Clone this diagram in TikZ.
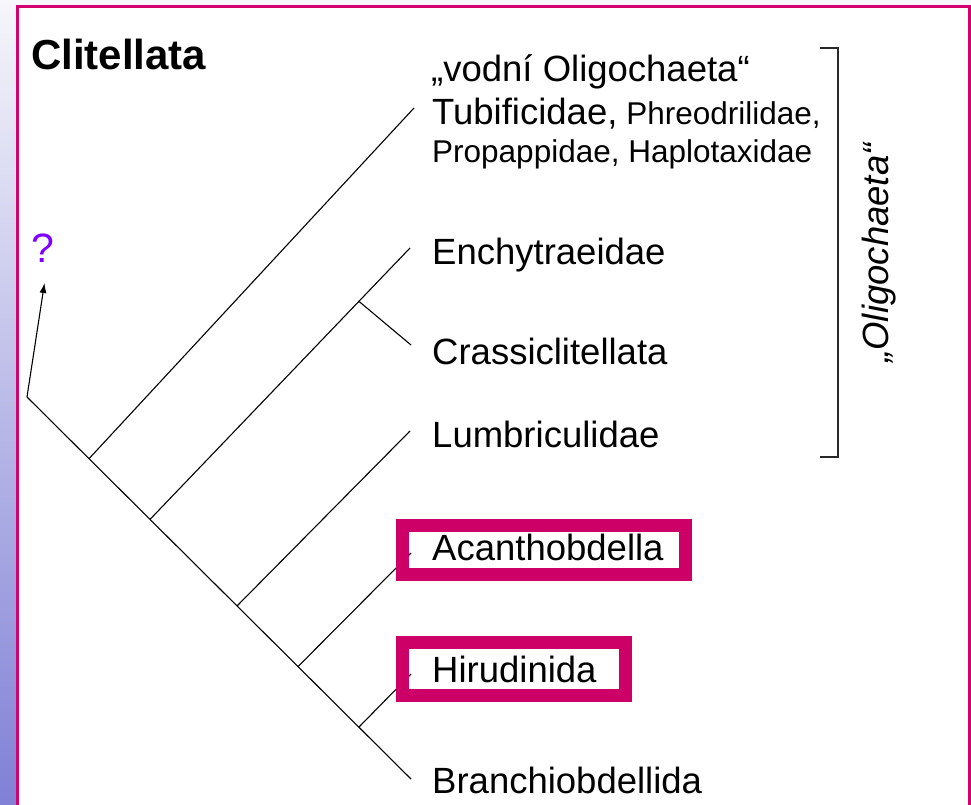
\documentclass[tikz,border=0pt]{standalone}
\usepackage{fontspec}
\setmainfont{Liberation Sans}
\usetikzlibrary{arrows.meta}
\definecolor{framemag}{RGB}{212,0,112}
\definecolor{boxmag}{RGB}{204,0,102}
\definecolor{qviolet}{RGB}{128,0,255}
\definecolor{bgtop}{RGB}{246,246,251}
\definecolor{bgmid}{RGB}{206,206,238}
\definecolor{bgbot}{RGB}{128,128,214}
\definecolor{brk}{RGB}{40,40,40}
\begin{document}
\begin{tikzpicture}[x=1pt,y=-1pt,
  taxon/.style={anchor=base west, inner sep=0pt, font=\fontsize{36.5}{43}\selectfont},
  small/.style={font=\fontsize{31.5}{38}\selectfont},
  branch/.style={line width=1.1pt, black},
  hlbox/.style={draw=boxmag, line width=13pt},
  bracket/.style={draw=brk, line width=1.6pt}]
\useasboundingbox (0,0) rectangle (971,805);
% background
\shade[top color=bgtop, middle color=bgmid, bottom color=bgbot] (0,0) rectangle (971,805);
\fill[white] (17.5,6.5) rectangle (971,805);
\draw[framemag, line width=3pt] (17.5,810) -- (17.5,6.5) -- (969.5,6.5) -- (969.5,810);
% tree coordinates
\coordinate (root) at (27,397);
\coordinate (n1) at (89,458.7);
\coordinate (n2) at (150,519.4);
\coordinate (n3) at (237,606);
\coordinate (n4) at (298,666.6);
\coordinate (n5) at (359,727);
\coordinate (tB) at (411,779);
\coordinate (tT) at (414,108);
\coordinate (tE) at (410,248);
\coordinate (nE) at (359,301.4);
\coordinate (tC) at (411,345);
\coordinate (tL) at (410,431);
\coordinate (tA) at (411,553);
\coordinate (tH) at (411,674);
\coordinate (qt) at (44.5,283);
% branches
\draw[branch] (root) -- (tB);
\draw[branch] (n1) -- (tT);
\draw[branch] (n2) -- (tE);
\draw[branch] (nE) -- (tC);
\draw[branch] (n3) -- (tL);
\draw[branch] (n4) -- (tA);
\draw[branch] (n5) -- (tH);
\draw[line width=1.1pt, -{Latex[length=10pt,width=7pt]}] (root) -- (qt);
% highlight boxes
\draw[hlbox] (402.5,525) rectangle (685.5,574.5);
\draw[hlbox] (402.5,642) rectangle (625.5,695.5);
% labels
\node[anchor=base west, inner sep=0pt, font=\bfseries\fontsize{42}{48}\selectfont] (title) at (31,70) {Clitellata};
\node[anchor=base, inner sep=0pt, text=qviolet, font=\fontsize{41}{46}\selectfont] (q) at (42.5,262) {?};
\node[taxon] (vod) at (431,82) {„vodní Oligochaeta“};
\node[taxon] (tub) at (432,125) {Tubificidae,{\fontsize{31.5}{38}\selectfont{} Phreodrilidae,}};
\node[taxon, small] (pro) at (432,163) {Propappidae, Haplotaxidae};
\node[taxon] (enc) at (432,264) {Enchytraeidae};
\node[taxon] (cra) at (432,364) {Crassiclitellata};
\node[taxon] (lum) at (432,447) {Lumbriculidae};
\node[taxon] (aca) at (432,560) {Acanthobdella};
\node[taxon] (hir) at (432,682) {Hirudinida};
\node[taxon] (bra) at (432,793) {Branchiobdellida};
% bracket
\coordinate (b1) at (820,48);
\coordinate (b2) at (838,48);
\coordinate (b3) at (838,457);
\coordinate (b4) at (820,457);
\draw[bracket] (b1) -- (b2) -- (b3) -- (b4);
\node[anchor=base, inner sep=0pt, rotate=90, font=\itshape\fontsize{36.5}{43}\selectfont] (oli) at (888,253) {„Oligochaeta“};
\end{tikzpicture}
\end{document}
